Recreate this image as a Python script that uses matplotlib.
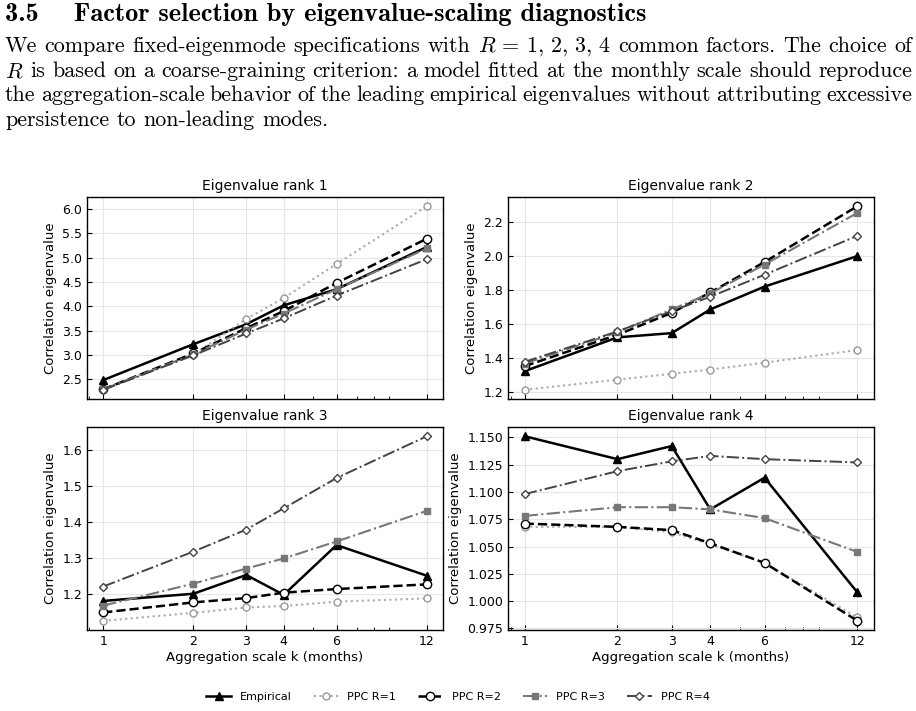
import matplotlib
matplotlib.use("Agg")
import matplotlib.pyplot as plt

plt.rcParams["mathtext.fontset"] = "cm"

# aggregation scales (months)
k = [1, 2, 3, 4, 6, 12]

# eigenvalue rank 1
emp_1 = [2.48, 3.22, 3.63, 4.02, 4.35, 5.22]
r1_1 = [2.30, 3.00, 3.74, 4.17, 4.87, 6.06]
r2_1 = [2.29, 3.03, 3.55, 3.90, 4.48, 5.39]
r3_1 = [2.29, 3.01, 3.52, 3.85, 4.35, 5.19]
r4_1 = [2.28, 2.99, 3.44, 3.75, 4.22, 4.97]

# eigenvalue rank 2
emp_2 = [1.32, 1.52, 1.545, 1.685, 1.82, 2.00]
r1_2 = [1.21, 1.27, 1.305, 1.33, 1.37, 1.445]
r2_2 = [1.35, 1.535, 1.665, 1.785, 1.965, 2.295]
r3_2 = [1.365, 1.55, 1.685, 1.78, 1.95, 2.255]
r4_2 = [1.375, 1.555, 1.675, 1.76, 1.89, 2.12]

# eigenvalue rank 3
emp_3 = [1.18, 1.20, 1.252, 1.197, 1.335, 1.25]
r1_3 = [1.125, 1.147, 1.162, 1.166, 1.178, 1.187]
r2_3 = [1.148, 1.176, 1.188, 1.203, 1.213, 1.226]
r3_3 = [1.167, 1.228, 1.27, 1.298, 1.345, 1.43]
r4_3 = [1.22, 1.317, 1.378, 1.437, 1.521, 1.637]

# eigenvalue rank 4
emp_4 = [1.151, 1.130, 1.142, 1.084, 1.113, 1.008]
r1_4 = [1.068, 1.068, 1.063, 1.052, 1.035, 0.985]
r2_4 = [1.071, 1.068, 1.065, 1.053, 1.035, 0.982]
r3_4 = [1.078, 1.086, 1.086, 1.084, 1.076, 1.045]
r4_4 = [1.098, 1.119, 1.128, 1.133, 1.130, 1.127]

panels = [
    ("Eigenvalue rank 1", emp_1, r1_1, r2_1, r3_1, r4_1),
    ("Eigenvalue rank 2", emp_2, r1_2, r2_2, r3_2, r4_2),
    ("Eigenvalue rank 3", emp_3, r1_3, r2_3, r3_3, r4_3),
    ("Eigenvalue rank 4", emp_4, r1_4, r2_4, r3_4, r4_4),
]
series_labels = ["Empirical", "PPC R=1", "PPC R=2", "PPC R=3", "PPC R=4"]
styles = [
    dict(color="black", ls="-", lw=1.8, marker="^", ms=6, mfc="black", mec="black"),
    dict(color="#aaaaaa", ls=":", lw=1.5, marker="o", ms=5, mfc="white", mec="#999999"),
    dict(color="black", ls="--", lw=1.8, marker="o", ms=6, mfc="white", mec="black"),
    dict(color="#777777", ls="-.", lw=1.5, marker="s", ms=5, mfc="#777777", mec="#777777"),
    dict(color="#444444", ls="-.", lw=1.4, marker="D", ms=4.5, mfc="white", mec="#444444"),
]

W, H = 916, 711
fig = plt.figure(figsize=(W / 100, H / 100), dpi=100)
renderer = fig.canvas.get_renderer()

# ---- page text ----
title = "3.5    Factor selection by eigenvalue-scaling diagnostics"
para = [
    ["We", "compare", "fixed-eigenmode", "specifications", "with", r"$R\,=\,1,\,2,\,3,\,4$",
     "common", "factors.", "The", "choice", "of"],
    [r"$R$", "is", "based", "on", "a", "coarse-graining", "criterion:", "a", "model", "fitted",
     "at", "the", "monthly", "scale", "should", "reproduce"],
    ["the", "aggregation-scale", "behavior", "of", "the", "leading", "empirical", "eigenvalues",
     "without", "attributing", "excessive"],
    ["persistence", "to", "non-leading", "modes."],
]
baselines = [21, 52, 77, 101, 126]
x0, x1 = 5, 912


def width_px(s, fam, size):
    t = fig.text(0, 0, s, fontfamily=fam, fontsize=size)
    w = t.get_window_extent(renderer).width
    t.remove()
    return w


tsize = 14 * (640 / width_px(title, "cmb10", 14))
fig.text(x0 / W, 1 - baselines[0] / H, title, fontfamily="cmb10", fontsize=tsize,
         va="baseline")

psize = 13 * (324 / width_px(" ".join(para[3]), "cmr10", 13))
space = width_px("a b", "cmr10", psize) - width_px("ab", "cmr10", psize)
for i, words in enumerate(para):
    ws = [width_px(w, "cmr10", psize) for w in words]
    if i < 3:
        gap = (x1 - x0 - sum(ws)) / (len(words) - 1)
    else:
        gap = space
    x = x0
    for w, wd in zip(words, ws):
        fig.text(x / W, 1 - baselines[i + 1] / H, w, fontfamily="cmr10", fontsize=psize,
                 va="baseline")
        x += wd + gap

# ---- chart panels ----
rects = [
    (87, 197, 443, 399),
    (508, 197, 874, 399),
    (87, 427, 443, 630),
    (508, 427, 874, 630),
]
handles = []
for idx, (rect, panel) in enumerate(zip(rects, panels)):
    l, t, r, b = rect
    ax = fig.add_axes([l / W, 1 - b / H, (r - l) / W, (b - t) / H])
    name = panel[0]
    for vals, st, lab in zip(panel[1:], styles, series_labels):
        ln, = ax.plot(k, vals, label=lab, **st)
        if idx == 0:
            handles.append(ln)
    ax.set_xscale("log")
    ax.set_xticks(k)
    ax.set_xticklabels([str(v) for v in k])
    ax.set_title(name, fontsize=10, pad=5)
    ax.set_ylabel("Correlation eigenvalue", fontsize=9.5)
    ax.grid(True, color="#e6e6e6", lw=0.8)
    ax.set_axisbelow(True)
    ax.tick_params(which="both", direction="in", labelsize=9)
    ax.tick_params(which="minor", length=2)
    if idx < 2:
        ax.tick_params(labelbottom=False)
    else:
        ax.set_xlabel("Aggregation scale k (months)", fontsize=9.5, labelpad=2)
    for sp in ax.spines.values():
        sp.set_linewidth(1.0)

fig.axes[0].set_yticks([2.5, 3.0, 3.5, 4.0, 4.5, 5.0, 5.5, 6.0])
fig.axes[1].set_yticks([1.2, 1.4, 1.6, 1.8, 2.0, 2.2])
fig.axes[2].set_yticks([1.2, 1.3, 1.4, 1.5, 1.6])
fig.axes[3].set_yticks([0.975, 1.0, 1.025, 1.05, 1.075, 1.1, 1.125, 1.15])
fig.axes[3].yaxis.set_major_formatter(matplotlib.ticker.FormatStrFormatter("%.3f"))

fig.legend(handles, series_labels, loc="center", bbox_to_anchor=(0.5, 1 - 697 / H),
           ncol=5, frameon=False, fontsize=8, handlelength=2.2, columnspacing=2.0)

fig.savefig("out.png", dpi=100)
